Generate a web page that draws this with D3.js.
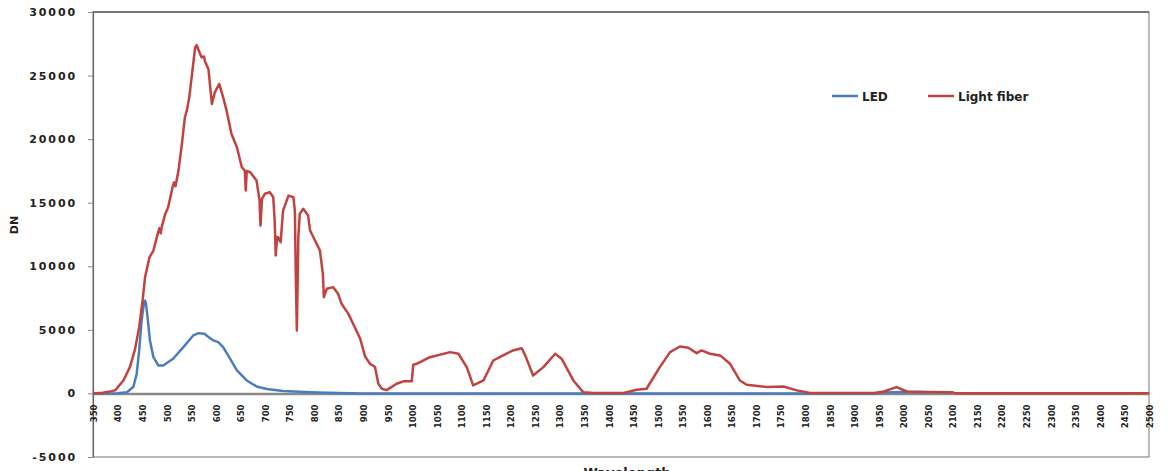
<!DOCTYPE html>
<html>
<head>
<meta charset="utf-8">
<script src="https://cdn.jsdelivr.net/npm/d3@7/dist/d3.min.js"></script>
<style>
  html, body { margin: 0; padding: 0; background: #fff; }
  #chart { width: 1175px; height: 471px; }
  text { font-family: "DejaVu Sans", sans-serif; font-weight: bold; fill: #222; }
</style>
</head>
<body>
<div id="chart"></div>
<script>
// LED spectrum
var ledWl = [350, 400, 419, 432, 439, 444, 449, 454, 456, 458, 461, 466, 473, 483, 493, 513, 534, 554, 565, 577, 581, 595, 605, 615, 629, 643, 663, 683, 704, 737, 771, 805, 850, 900, 1940, 1960, 2000, 2050, 2099];
var ledDn = [0, 20, 100, 500, 1550, 3380, 5740, 7180, 7300, 7050, 6000, 4170, 2850, 2200, 2200, 2730, 3640, 4560, 4740, 4700, 4560, 4170, 4030, 3640, 2730, 1810, 1020, 550, 350, 200, 130, 80, 30, 0, 0, 80, 120, 100, 80];

// Light fiber spectrum
var fiberWl = [350, 370, 385, 395, 412, 425, 435, 444, 451, 456, 465, 473, 480, 485, 488, 490, 497, 503, 512, 515, 518, 524, 531, 537, 541, 546, 554, 558, 561, 564, 571, 576, 578, 585, 592, 598, 607, 615, 622, 632, 643, 653, 659, 661, 663, 670, 683, 689, 691, 694, 700, 710, 717, 720, 722, 725, 727, 732, 737, 748, 758, 761, 763, 765, 767, 768, 771, 778, 788, 792, 802, 812, 818, 820, 826, 839, 849, 856, 870, 883, 894, 904, 914, 924, 931, 938, 948, 968, 982, 999, 1002, 1009, 1036, 1077, 1094, 1111, 1124, 1145, 1165, 1185, 1205, 1223, 1230, 1246, 1267, 1291, 1304, 1328, 1348, 1369, 1430, 1457, 1477, 1504, 1525, 1545, 1562, 1579, 1589, 1606, 1627, 1647, 1667, 1681, 1722, 1756, 1783, 1810, 1940, 1960, 1986, 2007, 2050, 2099, 2105, 2500];
var fiberDn = [0, 60, 160, 240, 1020, 2070, 3380, 5210, 7310, 9140, 10710, 11240, 12290, 13000, 12600, 13100, 14120, 14640, 16220, 16600, 16300, 17530, 19630, 21700, 22240, 23290, 25910, 27220, 27400, 27090, 26430, 26500, 26100, 25520, 22770, 23680, 24340, 23290, 22240, 20410, 19360, 17790, 17530, 15960, 17500, 17400, 16740, 15200, 13200, 15300, 15700, 15820, 15430, 13500, 10850, 12300, 12290, 11890, 14380, 15560, 15430, 14380, 9000, 4950, 9500, 12290, 14120, 14520, 13990, 12810, 12030, 11240, 9410, 7570, 8230, 8360, 7840, 7050, 6260, 5210, 4300, 2900, 2330, 2100, 760, 370, 260, 760, 950, 950, 2250, 2330, 2850, 3250, 3120, 2070, 630, 1020, 2590, 2990, 3380, 3550, 2990, 1410, 2070, 3120, 2730, 1020, 100, 40, 40, 290, 370, 2070, 3250, 3690, 3590, 3170, 3380, 3120, 2990, 2330, 1020, 680, 500, 550, 240, 40, 40, 150, 500, 150, 120, 100, 20, 20];

var xTickLabels = [350, 400, 450, 500, 550, 600, 650, 700, 750, 800, 850, 900, 950, 1000, 1050, 1100, 1150, 1200, 1250, 1300, 1350, 1400, 1450, 1500, 1550, 1600, 1650, 1700, 1750, 1800, 1850, 1900, 1950, 2000, 2050, 2100, 2150, 2200, 2250, 2300, 2350, 2400, 2450, 2500];
var yTickLabels = [-5000, 0, 5000, 10000, 15000, 20000, 25000, 30000];

var seriesNames = ["LED", "Light fiber"];
var seriesColors = ["#4a7ebb", "#c0433f"];

var width = 1175, height = 471;
var plot = {left: 93, right: 1149, top: 12, bottom: 457};

var svg = d3.select("#chart")
	.append("svg")
	.attr("width", width)
	.attr("height", height);

var xScale = d3.scaleLinear()
	.domain([350, 2500])
	.range([plot.left, plot.right]);

var yScale = d3.scaleLinear()
	.domain([-5000, 30000])
	.range([plot.bottom, plot.top]);

// plot frame
svg.append("rect")
	.attr("x", plot.left)
	.attr("y", plot.top)
	.attr("width", plot.right - plot.left)
	.attr("height", plot.bottom - plot.top)
	.attr("fill", "none")
	.attr("stroke", "#8c8c8c")
	.attr("stroke-width", 1.2);

svg.append("line")
	.attr("x1", plot.left).attr("x2", plot.right)
	.attr("y1", plot.top).attr("y2", plot.top)
	.attr("stroke", "#333")
	.attr("stroke-width", 1.2);

// y axis
var yAxis = d3.axisLeft(yScale)
	.tickValues(yTickLabels)
	.tickFormat(function(d) { return d; })
	.tickSizeInner(5)
	.tickSizeOuter(0)
	.tickPadding(11);

var gy = svg.append("g")
	.attr("transform", "translate(" + plot.left + ",0)")
	.call(yAxis);
gy.select(".domain").attr("stroke", "#666").attr("stroke-width", 1.2);
gy.selectAll(".tick line").attr("stroke", "#888");
gy.selectAll(".tick text")
	.attr("font-size", 11)
	.style("letter-spacing", "1.9px")
	.style("font-family", "'DejaVu Sans', sans-serif")
	.style("font-weight", "bold")
	.attr("fill", "#222");

// x axis at zero
var xAxis = d3.axisBottom(xScale)
	.tickValues(xTickLabels)
	.tickFormat(function(d) { return d; })
	.tickSizeInner(0)
	.tickSizeOuter(0);

var gx = svg.append("g")
	.attr("transform", "translate(0," + yScale(0) + ")")
	.call(xAxis);
gx.select(".domain").attr("stroke", "#8a8a8a").attr("stroke-width", 2.5);
gx.selectAll(".tick text")
	.attr("transform", "rotate(-90)")
	.attr("x", -11)
	.attr("y", 0)
	.attr("dy", "0.35em")
	.style("text-anchor", "end")
	.attr("font-size", 9.5)
	.style("font-family", "'DejaVu Sans Condensed', 'DejaVu Sans', sans-serif")
	.style("font-weight", "bold")
	.attr("fill", "#222");

// series lines
var line = d3.line()
	.x(function(d) { return xScale(d[0]); })
	.y(function(d) { return yScale(d[1]); });

var ledData = ledWl.map(function(w, i) { return [w, ledDn[i]]; });
var fiberData = fiberWl.map(function(w, i) { return [w, fiberDn[i]]; });

svg.append("path")
	.datum(ledData)
	.attr("d", line)
	.attr("fill", "none")
	.attr("stroke", seriesColors[0])
	.attr("stroke-width", 2.5)
	.attr("stroke-linejoin", "round");

svg.append("path")
	.datum(fiberData)
	.attr("d", line)
	.attr("fill", "none")
	.attr("stroke", seriesColors[1])
	.attr("stroke-width", 2.5)
	.attr("stroke-linejoin", "round");

// legend
var legendX = [832, 928];
var legend = svg.selectAll(".legend")
	.data(seriesNames)
	.enter()
	.append("g")
	.attr("class", "legend")
	.attr("transform", function(d, i) { return "translate(" + legendX[i] + ",96)"; });

legend.append("line")
	.attr("x1", 0).attr("x2", 26)
	.attr("y1", 0).attr("y2", 0)
	.attr("stroke", function(d, i) { return seriesColors[i]; })
	.attr("stroke-width", 2.5);

legend.append("text")
	.attr("x", 30)
	.attr("y", 4.5)
	.attr("font-size", 12)
	.text(function(d) { return d; });

// axis titles
svg.append("text")
	.attr("x", 627)
	.attr("y", 477)
	.attr("text-anchor", "middle")
	.attr("font-size", 13)
	.text("Wavelength");

svg.append("text")
	.attr("transform", "translate(18,225) rotate(-90)")
	.attr("text-anchor", "middle")
	.attr("font-size", 11)
	.text("DN");
</script>
</body>
</html>
